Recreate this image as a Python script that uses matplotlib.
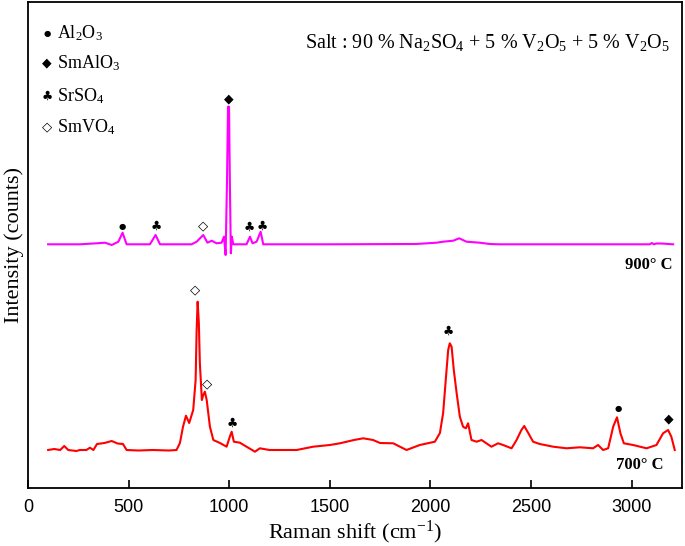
import matplotlib
matplotlib.use("Agg")
import matplotlib.pyplot as plt

plt.rcParams['font.family'] = ['Liberation Serif', 'DejaVu Sans']
plt.rcParams['mathtext.fontset'] = 'custom'
plt.rcParams['mathtext.rm'] = 'Liberation Serif'
plt.rcParams['mathtext.it'] = 'Liberation Serif:italic'
plt.rcParams['mathtext.bf'] = 'Liberation Serif:bold'

# ---- 700 °C spectrum (red) ----
red_x = [100, 130, 160, 180, 200, 240, 258, 290, 308, 325, 343, 380, 416, 445, 472, 490,
         550, 620, 700, 738, 755, 770, 785, 801, 821, 833, 838, 843, 849, 854, 864, 871,
         879, 888, 904, 921, 954, 987, 1003, 1012, 1023, 1053, 1086, 1128, 1152, 1200,
         1252, 1335, 1417, 1500, 1550, 1620, 1666, 1715, 1749, 1815, 1881, 1947, 2022,
         2047, 2063, 2076, 2088, 2096, 2105, 2116, 2130, 2146, 2162, 2176, 2187, 2204,
         2229, 2254, 2278, 2303, 2336, 2361, 2403, 2428, 2452, 2466, 2486, 2510, 2543,
         2610, 2676, 2742, 2808, 2833, 2858, 2883, 2908, 2927, 2944, 2961, 3007, 3074,
         3123, 3156, 3181, 3197, 3214]
red_y = [380, 390, 380, 420, 380, 370, 380, 380, 403, 380, 440, 450, 470, 445, 440, 380,
         375, 380, 375, 380, 450, 610, 723, 650, 780, 1080, 1580, 1863, 1650, 1250, 880, 930,
         963, 880, 613, 480, 450, 413, 513, 563, 463, 453, 413, 363, 397, 380,
         380, 380, 413, 430, 447, 480, 497, 480, 450, 447, 380, 430, 463,
         550, 750, 1080, 1380, 1447, 1413, 1180, 950, 713, 613, 597, 647, 480,
         463, 480, 447, 413, 447, 430, 397, 480, 580, 620, 550, 463, 440,
         413, 397, 407, 397, 430, 380, 397, 613, 707, 547, 447, 430, 397,
         430, 547, 580, 513, 380]

# ---- 900 °C spectrum (magenta, offset) ----
mag_x = [100, 200, 258, 341, 383, 416, 449, 470, 490, 606, 619, 634, 656, 813, 838, 871,
         892, 913, 937, 962, 974, 982, 989, 994, 999, 1003, 1008, 1013, 1020, 1086, 1103,
         1116, 1136, 1156, 1169, 1500, 1928, 2030, 2063, 2113, 2143, 2179, 2245, 2295,
         2345, 3090, 3100, 3110, 3123, 3148, 3206]
mag_y = [2437, 2437, 2437, 2447, 2453, 2430, 2463, 2553, 2437, 2437, 2480, 2530, 2437, 2437, 2463, 2530,
         2453, 2473, 2447, 2453, 2513, 2330, 3080, 3813, 3813, 3080, 2347, 2513, 2437, 2437, 2513,
         2447, 2463, 2563, 2437, 2437, 2440, 2453, 2463, 2473, 2497, 2463, 2453, 2440,
         2437, 2437, 2450, 2437, 2445, 2445, 2437]

# ---- phase markers ----
sym_circle, sym_diam, sym_club, sym_odiam = "\u25CF", "\u25C6", "\u2663", "\u25C7"
phase_symbols = [sym_circle, sym_diam, sym_club, sym_odiam]
phase_names = ["Al$_2$O$_3$", "SmAlO$_3$", "SrSO$_4$", "SmVO$_4$"]

mag_mark_x = [470, 639, 871, 1000, 1100, 1163]
mag_mark_y = [2620, 2620, 2620, 3887, 2610, 2620]
mag_mark_s = [sym_circle, sym_club, sym_odiam, sym_diam, sym_club, sym_club]

red_mark_x = [830, 891, 1017, 2088, 2933, 3183]
red_mark_y = [1980, 1040, 647, 1563, 797, 690]
red_mark_s = [sym_odiam, sym_odiam, sym_club, sym_club, sym_circle, sym_diam]

xticks = [0, 500, 1000, 1500, 2000, 2500, 3000]

fig = plt.figure(figsize=(6.85, 5.46), dpi=100)
ax = fig.add_axes([28/685, 58/546, 654/685, 486/546])

ax.plot(mag_x, mag_y, color='#FF00FF', lw=1.5)
ax.plot(red_x, red_y, color='#FF0000', lw=1.5)

sym_sizes = {sym_circle: 6, sym_diam: 9, sym_club: 9, sym_odiam: 9.5}
for xs, ys, ss in [(mag_mark_x, mag_mark_y, mag_mark_s), (red_mark_x, red_mark_y, red_mark_s)]:
    for x, y, s in zip(xs, ys, ss):
        ax.text(x, y, s, ha='center', va='center', fontsize=sym_sizes[s],
                family='DejaVu Sans', color='black')

leg_y = [0.936, 0.874, 0.807, 0.743]
for s, name, yy in zip(phase_symbols, phase_names, leg_y):
    ax.text(0.029, yy, s, transform=ax.transAxes, ha='center', va='center',
            fontsize=sym_sizes[s], family='DejaVu Sans')
    ax.text(0.045, yy, name, transform=ax.transAxes, ha='left', va='center', fontsize=13)

ax.text(0.982, 0.916, "Salt : 90 % Na$_2$SO$_4$ + 5 % V$_2$O$_5$ + 5 % V$_2$O$_5$",
        transform=ax.transAxes, ha='right', va='center', fontsize=14.5)
ax.text(0.985, 0.459, "900° C", transform=ax.transAxes, ha='right', va='center',
        fontsize=12, fontweight='bold')
ax.text(0.971, 0.047, "700° C", transform=ax.transAxes, ha='right', va='center',
        fontsize=12, fontweight='bold')

ax.set_xlim(0, 3250)
ax.set_ylim(0, 4860)
ax.set_xticks(xticks)
ax.set_xticklabels([str(t) for t in xticks], family='Liberation Sans', fontsize=13)
ax.set_yticks([])
ax.tick_params(axis='x', direction='in', length=5.5, width=1.2, pad=8)
for sp in ax.spines.values():
    sp.set_linewidth(1.3)

ax.set_xlabel("Raman shift (cm$^{-1}$)", fontsize=16, labelpad=2)
ax.set_ylabel("Intensity (counts)", fontsize=16, labelpad=3)

fig.savefig("out.png", dpi=100)
